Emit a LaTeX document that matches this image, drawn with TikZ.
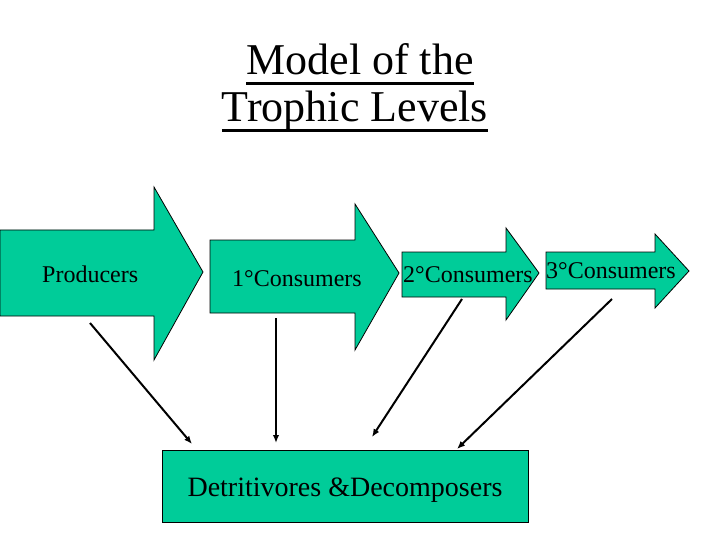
\documentclass[tikz,border=0pt]{standalone}
\usepackage{fontspec}
\setmainfont{Liberation Serif}
\usepackage{tikz}
\usetikzlibrary{arrows.meta}
\definecolor{trophic}{RGB}{0,204,153}

\begin{document}
\begin{tikzpicture}[x=1pt, y=-1pt, >={Latex[length=8pt,width=6.5pt]},
	level/.style={fill=trophic, draw=black, line width=0.8pt},
	label/.style={font=\fontsize{24}{28}\selectfont, inner sep=0pt, anchor=base west},
	link/.style={->, line width=2pt}]
	\useasboundingbox (0,0) rectangle (720,540);
	% title, underlined
	\node[font=\fontsize{44}{48}\selectfont, inner sep=0pt, anchor=base] (title1) at (360,75) {Model of the};
	\node[font=\fontsize{44}{48}\selectfont, inner sep=0pt, anchor=base] (title2) at (355,122) {Trophic Levels};
	\draw[line width=2.2pt] ([yshift=-8.5pt]title1.base west) -- ([yshift=-8.5pt]title1.base east);
	\draw[line width=2.2pt] ([yshift=-8.5pt]title2.base west) -- ([yshift=-8.5pt]title2.base east);
	% the four level arrows
	\draw[level] (0,230) -- (154,230) -- (154,187) -- (203,272) -- (154,360) -- (154,316) -- (0,316) -- cycle;
	\draw[level] (210,240) -- (355,240) -- (355,204) -- (399,273) -- (355,350) -- (355,313) -- (210,313) -- cycle;
	\draw[level] (402,252) -- (506,252) -- (506,228) -- (539,273) -- (506,320) -- (506,297) -- (402,297) -- cycle;
	\draw[level] (546,252) -- (655,252) -- (655,234) -- (689,271) -- (655,308) -- (655,289) -- (546,289) -- cycle;
	\node[label] (prod) at (42,282) {Producers};
	\node[label] (cons1) at (232,286) {1\textdegree Consumers};
	\node[label] (cons2) at (403,282) {2\textdegree Consumers};
	\node[label] (cons3) at (546,278) {3\textdegree Consumers};
	% decomposers box
	\draw[level] (162,450) rectangle (528,522);
	\node[font=\fontsize{28}{32}\selectfont, inner sep=0pt, anchor=base] (decomp) at (345,496) {Detritivores \&Decomposers};
	% links down to the box
	\coordinate (s1) at (90,323);  \coordinate (e1) at (192,444);
	\coordinate (s2) at (276,318); \coordinate (e2) at (276,443);
	\coordinate (s3) at (462,299); \coordinate (e3) at (372,437);
	\coordinate (s4) at (612,299); \coordinate (e4) at (457,449);
	\draw[link] (s1) -- (e1);
	\draw[link] (s2) -- (e2);
	\draw[link] (s3) -- (e3);
	\draw[link] (s4) -- (e4);
\end{tikzpicture}
\end{document}
